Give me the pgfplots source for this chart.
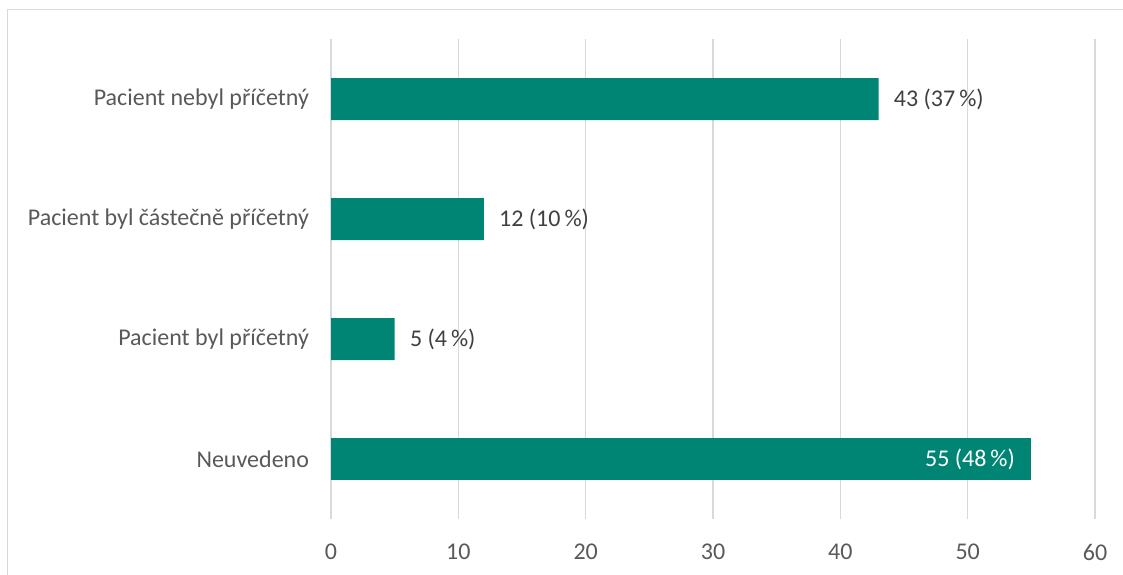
\documentclass[border=0pt]{standalone}
\usepackage{pgfplots}
\pgfplotsset{compat=1.18}
\usepackage{fontspec}
\setmainfont{Carlito}

\definecolor{barteal}{HTML}{008575}
\definecolor{gridgray}{HTML}{D9D9D9}
\definecolor{ticktext}{HTML}{595959}
\definecolor{valtext}{HTML}{404040}

\newcommand{\lblfont}{\fontsize{12}{14}\selectfont}

\begin{document}
\begin{tikzpicture}
  \useasboundingbox (0,0) rectangle (561.5pt,287pt);
  % chart frame, runs off the right and bottom edges
  \draw[gridgray, line width=0.75pt] (3.75pt,-5pt) rectangle (570pt,282.25pt);
  \begin{axis}[
      at={(165.5pt,27.5pt)}, anchor=south west,
      scale only axis, width=382pt, height=240pt,
      xmin=0, xmax=60, ymin=-0.5, ymax=3.5,
      xtick={0,10,...,60}, ytick={0,1,2,3},
      yticklabels={Neuvedeno, Pacient byl příčetný, Pacient byl částečně příčetný, Pacient nebyl příčetný},
      xmajorgrids,
      major grid style={gridgray, line width=0.75pt},
      axis line style={draw=none},
      major tick length=0pt,
      tick label style={font=\lblfont, text=ticktext},
      xticklabel style={anchor=center, yshift=-16.5pt},
      yticklabel style={xshift=-7.5pt},
      /pgf/number format/assume math mode=true,
      xbar, bar width=0.35, bar shift=0pt,
    ]
    \addplot[fill=barteal, draw=none,
      nodes near coords, point meta=explicit symbolic,
      every node near coord/.style={anchor=west, inner sep=0pt, xshift=7.5pt,
        text=valtext, font=\lblfont}]
      coordinates {(43,3) [43 (37\,\%)] (12,2) [12 (10\,\%)] (5,1) [5 (4\,\%)]};
    \addplot[fill=barteal, draw=none,
      nodes near coords, point meta=explicit symbolic,
      every node near coord/.style={anchor=east, inner sep=0pt, xshift=-8pt,
        text=white, font=\lblfont}]
      coordinates {(55,0) [55 (48\,\%)]};
  \end{axis}
\end{tikzpicture}
\end{document}
